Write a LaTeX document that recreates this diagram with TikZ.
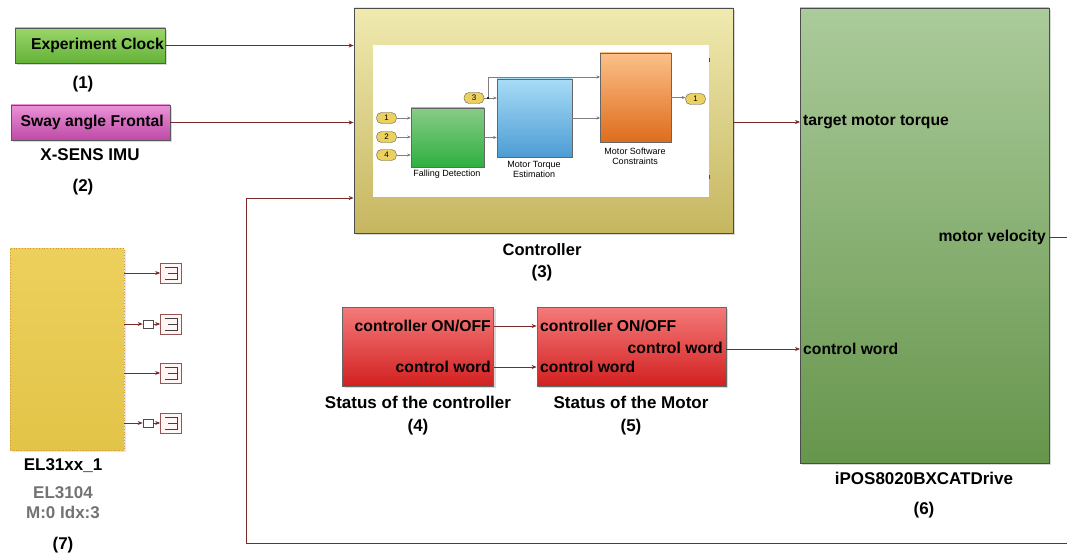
\documentclass[tikz,border=0pt]{standalone}
\usepackage{fontspec}
\setmainfont{Liberation Sans}
\usetikzlibrary{arrows.meta,shadows,calc}
\definecolor{wirec}{HTML}{7A2A2A}
\definecolor{ovalc}{HTML}{ECD060}
\tikzset{
  blk/.style={draw=#1, line width=0.8pt, inner sep=0pt, drop shadow={shadow xshift=2pt, shadow yshift=-2pt, fill=black!30}},
  blk/.default={black!70},
  inblk/.style={draw=black!60, line width=0.6pt, inner sep=0pt},
  wire/.style={draw=wirec, line width=0.75pt},
  iwire/.style={draw=black!50, line width=0.5pt},
  arr/.style={-{Stealth[length=5pt,width=4pt,fill=black]}},
  iarr/.style={-{Stealth[length=3.5pt,width=3pt,fill=black]}},
  big/.style={font=\fontsize{15.7}{17}\selectfont\bfseries, inner sep=1pt},
  lab/.style={font=\fontsize{17}{19}\selectfont\bfseries, inner sep=1pt},
  small/.style={font=\fontsize{9}{10.5}\selectfont, inner sep=0pt, align=center},
  oval/.style={draw=black!65, fill=ovalc, rounded corners=5pt, minimum width=20pt, minimum height=11pt, inner sep=0pt, font=\fontsize{8}{9}\selectfont},
  term/.style={draw=wirec!80, fill=white!96!red, line width=0.6pt, minimum width=21pt, minimum height=20pt, inner sep=0pt},
  conv/.style={draw=black!70, fill=white, line width=0.6pt, minimum width=10pt, minimum height=8pt, inner sep=0pt},
}
\begin{document}
\begin{tikzpicture}[x=1pt,y=-1pt]
\useasboundingbox (0,0) rectangle (1067,559);
\fill[white] (0,0) rectangle (1067,559);

% (1) clock
\node[blk={black!65}, top color={rgb,255:red,154;green,214;blue,106}, bottom color={rgb,255:red,100;green,178;blue,56}, minimum width=150pt, minimum height=35pt] (clock) at (90,45.5) {};
\node[big, anchor=east] (clockt) at (165,45.5) {Experiment Clock};
\node[lab] (l1) at (83,84) {(1)};

% (2) sway
\node[blk={black!65}, top color={rgb,255:red,234;green,146;blue,216}, bottom color={rgb,255:red,190;green,74;blue,166}, minimum width=159pt, minimum height=35pt] (sway) at (90.5,122.5) {};
\node[big, anchor=east] (swayt) at (165,122.5) {Sway angle Frontal};
\node[lab] (imu) at (90,155) {X-SENS IMU};
\node[lab] (l2) at (83,187) {(2)};

% (3) controller
\node[blk={black!70}, top color={rgb,255:red,240;green,234;blue,176}, bottom color={rgb,255:red,198;green,182;blue,96}, minimum width=379pt, minimum height=225pt] (ctrl) at (543.5,120.5) {};
\fill[white] (373,45) rectangle (709,197);
\draw[black!70, line width=0.8pt] (709,58) -- (709,62) (709,175) -- (709,179);
\node[font=\fontsize{16.5}{18}\selectfont\bfseries, inner sep=1pt] (ctrlt) at (542,250) {Controller};
\node[lab] (l3) at (542,273) {(3)};

% inner blocks
\node[inblk, top color={rgb,255:red,136;green,204;blue,136}, bottom color={rgb,255:red,46;green,176;blue,64}, minimum width=73pt, minimum height=59pt] (fd) at (447.5,137.5) {};
\node[inblk, top color={rgb,255:red,168;green,220;blue,246}, bottom color={rgb,255:red,76;green,156;blue,212}, minimum width=75pt, minimum height=78pt] (mte) at (534.5,118) {};
\node[inblk, top color={rgb,255:red,252;green,192;blue,136}, bottom color={rgb,255:red,222;green,108;blue,28}, minimum width=71pt, minimum height=89pt] (msc) at (635.5,97.5) {};
\node[small] (fdt) at (447,174) {Falling Detection};
\node[small] (mtet) at (534,169.5) {Motor Torque\\Estimation};
\node[small] (msct) at (635,156.5) {Motor Software\\Constraints};

\node[oval] (p1) at (386.5,118) {1};
\node[oval] (p2) at (386.5,137) {2};
\node[oval] (p4) at (386.5,155) {4};
\node[oval] (p3) at (474,98) {3};
\node[oval] (o1) at (695.5,99) {1};

\draw[iwire,iarr] (p1) -- (p1 -| fd.west);
\draw[iwire,iarr] (p2) -- (p2 -| fd.west);
\draw[iwire,iarr] (p4) -- (p4 -| fd.west);
\draw[iwire,iarr] (fd.east) -- (fd.east -| mte.west);
\coordinate (br) at (488,98);
\coordinate (mscin1) at (600,77);
\coordinate (mscin2) at (600,118);
\draw[iwire,iarr] (p3) -- (p3 -| mte.west);
\draw[iwire,iarr] (br) |- (mscin1);
\fill[black] (br) circle (1.2pt);
\draw[iwire,iarr] (mte.east) -- (mscin2);
\draw[iwire,iarr] (msc.east) -- (msc.east -| o1.west);

% (6) drive
\node[blk={black!70}, top color={rgb,255:red,171;green,203;blue,155}, bottom color={rgb,255:red,102;green,149;blue,76}, minimum width=249pt, minimum height=455pt] (drive) at (924.5,235.5) {};
\node[big, anchor=west] (tmt) at (802,122) {target motor torque};
\node[big, anchor=west] (cwin) at (802,349) {control word};
\node[big, anchor=east] (mvel) at (1047,237) {motor velocity};
\node[lab] (drivet) at (924,478) {iPOS8020BXCATDrive};
\node[lab] (l6) at (924,510) {(6)};

% (4) status of controller
\node[blk={black!60}, top color={rgb,255:red,244;green,122;blue,122}, bottom color={rgb,255:red,210;green,32;blue,32}, minimum width=151pt, minimum height=79pt] (sc) at (418,346.5) {};
\node[big, anchor=east] (sc1) at (492,326) {controller ON/OFF};
\node[big, anchor=east] (sc2) at (492,367) {control word};
\node[lab] (sct) at (418,402) {Status of the controller};
\node[lab] (l4) at (418,427) {(4)};

% (5) status of motor
\node[blk={black!60}, top color={rgb,255:red,244;green,122;blue,122}, bottom color={rgb,255:red,210;green,32;blue,32}, minimum width=189pt, minimum height=79pt] (sm) at (631.5,346.5) {};
\node[big, anchor=west] (sm1) at (539,326) {controller ON/OFF};
\node[big, anchor=west] (sm2) at (539,367) {control word};
\node[big, anchor=east] (sm3) at (724,348) {control word};
\node[lab] (smt) at (631,402) {Status of the Motor};
\node[lab] (l5) at (631,427) {(5)};

% (7) EL31xx
\node[draw={rgb,255:red,214;green,150;blue,60}, dotted, line width=0.8pt, top color={rgb,255:red,236;green,208;blue,92}, bottom color={rgb,255:red,226;green,196;blue,72}, minimum width=114pt, minimum height=202pt, inner sep=0pt, drop shadow={shadow xshift=2pt, shadow yshift=-2pt, fill=black!20}] (el) at (67,349) {};
\node[lab] (elt) at (63,466) {EL31xx\_1};
\node[lab, text=black!55] (elt2) at (63,493) {EL3104};
\node[lab, text=black!55] (elt3) at (63,512) {M:0 Idx:3};
\node[lab] (l7) at (63,545) {(7)};

\node[term] (t1) at (171,273) {};
\node[term] (t2) at (171,324) {};
\node[term] (t3) at (171,373) {};
\node[term] (t4) at (171,423) {};
\foreach \Y in {273,324,373,423}{
  \draw[black!75, line width=0.6pt] (165,\Y-6) -- (177,\Y-6) -- (177,\Y+6) -- (165,\Y+6) (168,\Y) -- (177,\Y);
}
\node[conv] (c2) at (148,324) {};
\node[conv] (c4) at (148,423) {};
\draw[wire,arr] (el.east |- t1) -- (t1.west);
\draw[wire,arr] (el.east |- c2) -- (c2.west);
\draw[wire,arr] (c2.east) -- (t2.west);
\draw[wire,arr] (el.east |- t3) -- (t3.west);
\draw[wire,arr] (el.east |- c4) -- (c4.west);
\draw[wire,arr] (c4.east) -- (t4.west);

% outer wires
\draw[wire,arr] (clock.east) -- (clock.east -| ctrl.west);
\draw[wire,arr] (sway.east) -- (sway.east -| ctrl.west);
\coordinate (tmtin) at (800,122);
\draw[wire,arr] (tmtin -| ctrl.east) -- (tmtin);
\coordinate (cwd) at (800,349);
\draw[wire,arr] (cwd -| sm.east) -- (cwd);
\coordinate (sa) at (494,326);
\coordinate (sb) at (494,367);
\draw[wire,arr] (sa) -- (sa -| sm.west);
\draw[wire,arr] (sb) -- (sb -| sm.west);
\coordinate (mvR) at (1067,237);
\draw[wire] (mvR -| drive.east) -- (mvR);
\coordinate (fbR) at (1067,543);
\coordinate (fbc) at (246,198);
\draw[wire,arr] (fbR) -| (fbc) -- (fbc -| ctrl.west);
\end{tikzpicture}
\end{document}
